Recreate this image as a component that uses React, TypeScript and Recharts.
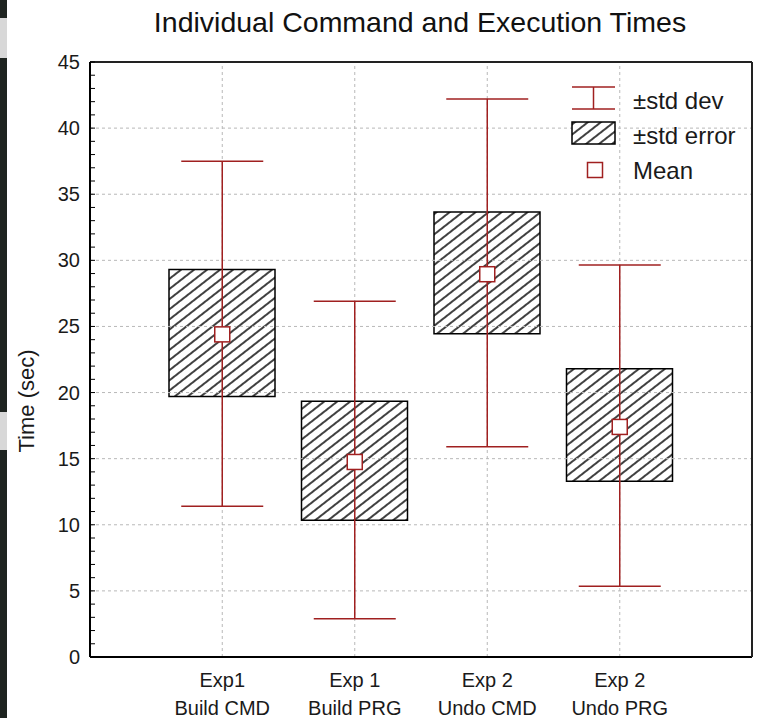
import React from 'react';
import { ComposedChart, Bar, Line, XAxis, YAxis, ErrorBar, ReferenceLine, Legend } from 'recharts';

const groups = ['Exp1', 'Exp 1', 'Exp 2', 'Exp 2'];
const tasks = ['Build CMD', 'Build PRG', 'Undo CMD', 'Undo PRG'];
const means = [24.4, 14.75, 28.95, 17.4];
const seLow = [19.7, 10.35, 24.45, 13.3];
const seHigh = [29.3, 19.35, 33.65, 21.8];
const sdLow = [11.4, 2.9, 15.9, 5.35];
const sdHigh = [37.5, 26.9, 42.2, 29.65];
const majorTicks = [0, 5, 10, 15, 20, 25, 30, 35, 40, 45];
const minorTicks = Array.from({ length: 46 }, (_, i) => i);

const RED = '#a02020';
const FONT = '"Liberation Sans", Arial, sans-serif';

const data = tasks.map((t, i) => ({
  name: t,
  se: [seLow[i], seHigh[i]],
  mean: means[i],
  sd: [means[i] - sdLow[i], sdHigh[i] - means[i]],
}));

const LeftTick = (props: any) => {
  const { x, y, payload } = props;
  const v = payload.value;
  return (
    <g>
      <line x1={x} x2={x + 5} y1={y} y2={y} stroke="#000" strokeWidth={1} />
      {majorTicks.includes(v) && (
        <text x={x - 10} y={y} textAnchor="end" dominantBaseline="central" fontSize={20} fill="#1a1a1a" fontFamily={FONT}>
          {v}
        </text>
      )}
    </g>
  );
};

const RightTick = (props: any) => {
  const { x, y } = props;
  return <line x1={x - 5} x2={x} y1={y} y2={y} stroke="#000" strokeWidth={1} />;
};

const BottomTick = (props: any) => {
  const { x, y, payload } = props;
  const i = tasks.indexOf(payload.value);
  return (
    <g fontFamily={FONT} fontSize={20} fill="#1a1a1a">
      <text x={x} y={y + 30} textAnchor="middle">{groups[i]}</text>
      <text x={x} y={y + 58} textAnchor="middle">{tasks[i]}</text>
    </g>
  );
};

const MeanDot = (props: any) => {
  const { cx, cy } = props;
  if (cx == null || cy == null) return null;
  return <rect x={cx - 7.5} y={cy - 7.5} width={15} height={15} fill="#fff" stroke={RED} strokeWidth={1.5} />;
};

const renderLegend = () => (
  <svg width={190} height={110} fontFamily={FONT}>
    <line x1={12} x2={55} y1={9} y2={9} stroke={RED} strokeWidth={1.5} />
    <line x1={12} x2={55} y1={31} y2={31} stroke={RED} strokeWidth={1.5} />
    <line x1={33.5} x2={33.5} y1={9} y2={31} stroke={RED} strokeWidth={1.5} />
    <text x={73} y={22} dominantBaseline="central" fontSize={24} fill="#1a1a1a">±std dev</text>
    <rect x={12} y={44} width={43} height={22} fill="url(#hatch)" stroke="#000" strokeWidth={1.5} />
    <text x={73} y={57} dominantBaseline="central" fontSize={24} fill="#1a1a1a">±std error</text>
    <rect x={27.5} y={84.5} width={15} height={15} fill="#fff" stroke={RED} strokeWidth={1.5} />
    <text x={73} y={92} dominantBaseline="central" fontSize={24} fill="#1a1a1a">Mean</text>
  </svg>
);

export default function App() {
  return (
    <div style={{ position: 'absolute', left: 0, top: 0, width: 759, height: 718, background: '#fff', fontFamily: FONT }}>
      <div style={{ position: 'absolute', left: 0, top: 0, width: 7, height: 718, background: '#1e2420' }} />
      <div style={{ position: 'absolute', left: 0, top: 18, width: 7, height: 40, background: '#d8d8d8' }} />
      <div style={{ position: 'absolute', left: 0, top: 412, width: 7, height: 38, background: '#d8d8d8' }} />
      <div style={{ position: 'absolute', left: 420, top: 6, transform: 'translateX(-50%)', fontSize: 28.5, color: '#111', whiteSpace: 'nowrap' }}>
        Individual Command and Execution Times
      </div>
      <div style={{ position: 'absolute', left: 27, top: 401, transform: 'translate(-50%, -50%) rotate(-90deg)', fontSize: 22, color: '#1a1a1a', whiteSpace: 'nowrap' }}>
        Time (sec)
      </div>
      <ComposedChart width={759} height={718} data={data} margin={{ top: 62, right: 6, bottom: 11, left: 30 }}>
        <defs>
          <pattern id="hatch" width={8} height={8} patternUnits="userSpaceOnUse" patternTransform="rotate(-38)">
            <rect width={8} height={8} fill="#fff" />
            <line x1={0} x2={8} y1={4} y2={4} stroke="#111" strokeWidth={1.6} />
          </pattern>
        </defs>
        <XAxis
          dataKey="name"
          padding={{ left: 66, right: 66 }}
          height={50}
          tickSize={0}
          tickMargin={0}
          tick={<BottomTick />}
          interval={0}
          axisLine={{ stroke: '#000', strokeWidth: 2 }}
        />
        <YAxis
          yAxisId="left"
          domain={[0, 45]}
          ticks={minorTicks}
          interval={0}
          width={60}
          tickSize={0}
          tickMargin={0}
          tick={<LeftTick />}
          axisLine={{ stroke: '#000', strokeWidth: 2 }}
        />
        <YAxis
          yAxisId="right"
          orientation="right"
          domain={[0, 45]}
          ticks={minorTicks}
          interval={0}
          width={1}
          tickSize={0}
          tickMargin={0}
          tick={<RightTick />}
          axisLine={{ stroke: '#222', strokeWidth: 2 }}
        />
        {majorTicks.slice(1, -1).map((v) => (
          <ReferenceLine key={'h' + v} yAxisId="left" y={v} stroke="#b8b8b8" strokeDasharray="3 3" />
        ))}
        {tasks.map((t) => (
          <ReferenceLine key={'v' + t} yAxisId="left" x={t} stroke="#b8b8b8" strokeDasharray="3 3" />
        ))}
        <ReferenceLine yAxisId="left" y={45} stroke="#222" strokeWidth={2} />
        <Bar yAxisId="left" dataKey="se" barSize={106} fill="url(#hatch)" stroke="#000" strokeWidth={1.5} isAnimationActive={false} />
        <Line yAxisId="left" dataKey="mean" stroke="none" dot={<MeanDot />} activeDot={false} isAnimationActive={false}>
          <ErrorBar dataKey="sd" width={41} stroke={RED} strokeWidth={1.5} direction="y" />
        </Line>
        <Legend
          layout="vertical"
          align="center"
          verticalAlign="middle"
          content={renderLegend}
          wrapperStyle={{ position: 'absolute', left: 560, top: 78, width: 190, height: 110 }}
        />
      </ComposedChart>
    </div>
  );
}
